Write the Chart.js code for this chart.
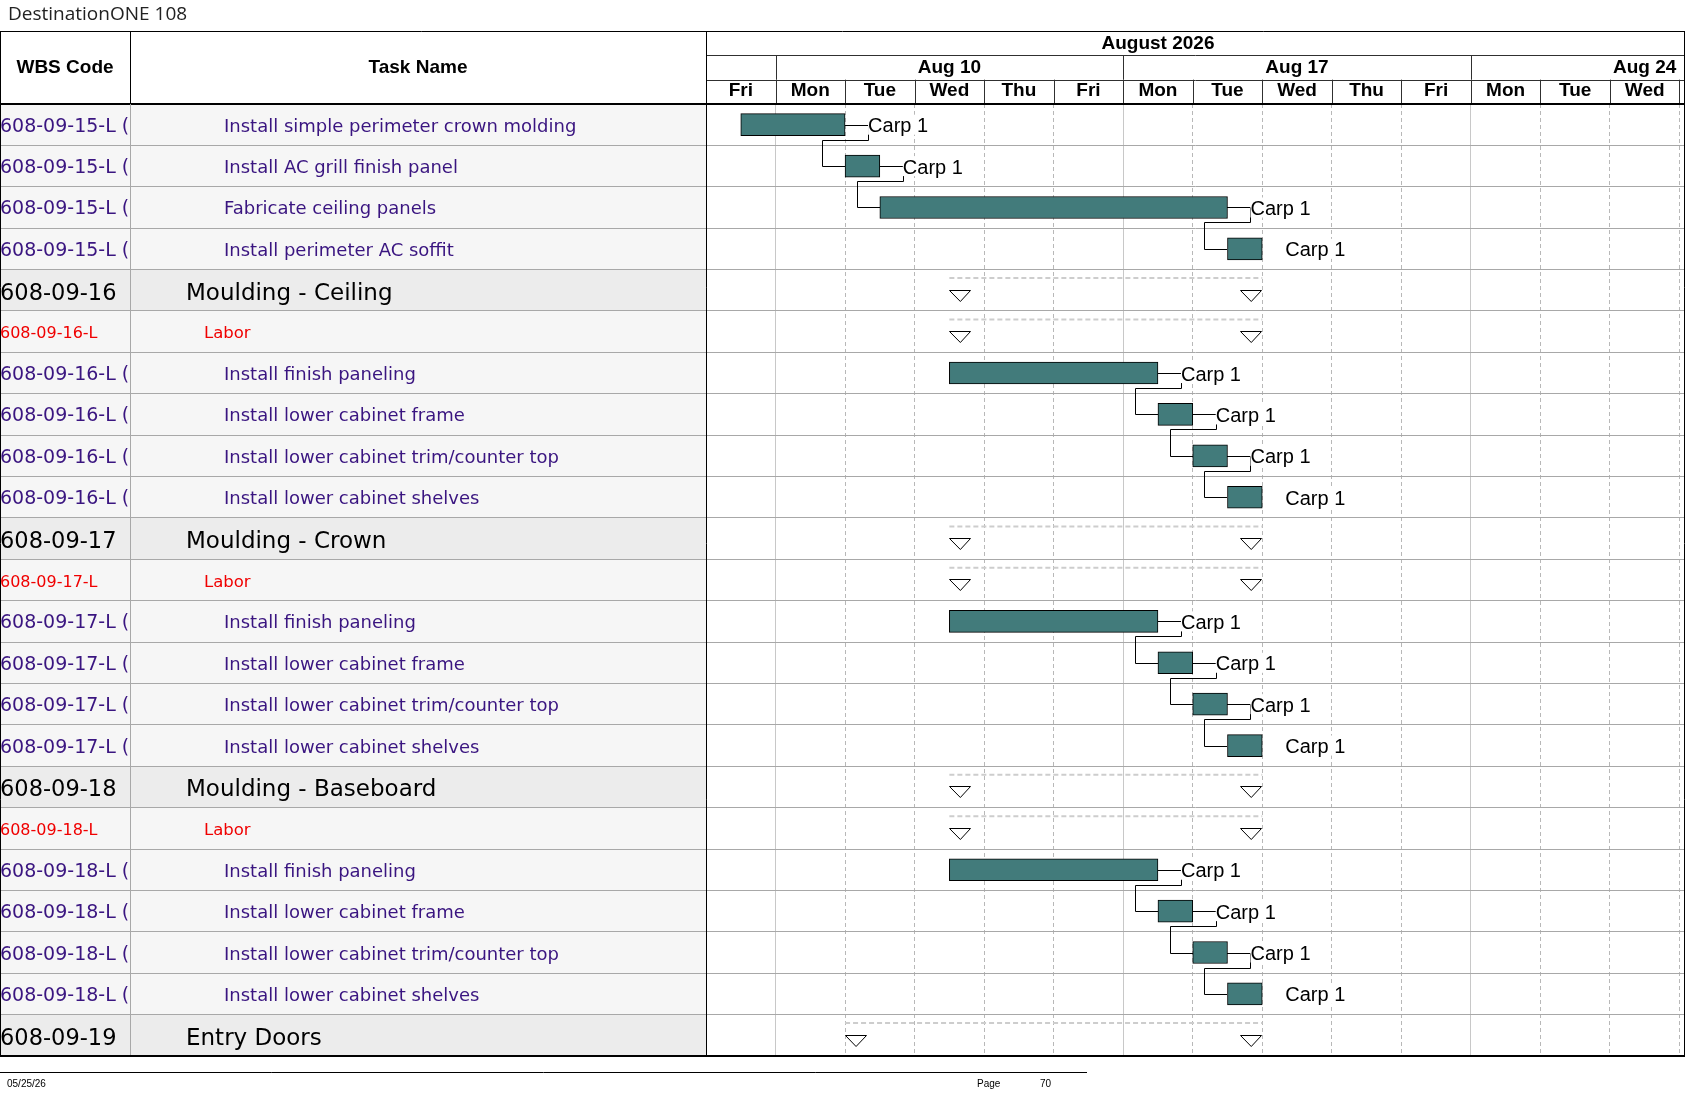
<!DOCTYPE html>
<html><head><meta charset="utf-8">
<script src="https://cdn.jsdelivr.net/npm/chart.js@4.4.1/dist/chart.umd.min.js"></script>
<style>html,body{margin:0;padding:0;background:#fff;overflow:hidden}#wrap{position:relative;width:1687px;height:1097px}</style>
</head><body><div id="wrap"><canvas id="c"></canvas></div>
<script>
// ---------- data ----------
const chartTitle = 'DestinationONE 108';
const wbsHeader = 'WBS Code';
const nameHeader = 'Task Name';
const wbsCodes = [
  '608-09-15-L (','608-09-15-L (','608-09-15-L (','608-09-15-L (',
  '608-09-16','608-09-16-L','608-09-16-L (','608-09-16-L (','608-09-16-L (','608-09-16-L (',
  '608-09-17','608-09-17-L','608-09-17-L (','608-09-17-L (','608-09-17-L (','608-09-17-L (',
  '608-09-18','608-09-18-L','608-09-18-L (','608-09-18-L (','608-09-18-L (','608-09-18-L (',
  '608-09-19'
];
const taskNames = [
  'Install simple perimeter crown molding','Install AC grill finish panel','Fabricate ceiling panels','Install perimeter AC soffit',
  'Moulding - Ceiling','Labor','Install finish paneling','Install lower cabinet frame','Install lower cabinet trim/counter top','Install lower cabinet shelves',
  'Moulding - Crown','Labor','Install finish paneling','Install lower cabinet frame','Install lower cabinet trim/counter top','Install lower cabinet shelves',
  'Moulding - Baseboard','Labor','Install finish paneling','Install lower cabinet frame','Install lower cabinet trim/counter top','Install lower cabinet shelves',
  'Entry Doors'
];
const rowKinds = [
  'task','task','task','task',
  'group','labor','task','task','task','task',
  'group','labor','task','task','task','task',
  'group','labor','task','task','task','task',
  'group'
];
// working-day offsets (0 = start of Fri Aug 7, weekends not shown)
const startDay  = [0.5,2,2.5,7.5, 3.5,3.5,3.5,6.5,7,7.5, 3.5,3.5,3.5,6.5,7,7.5, 3.5,3.5,3.5,6.5,7,7.5, 2];
const finishDay = [2,2.5,7.5,8,   8,8,6.5,7,7.5,8,      8,8,6.5,7,7.5,8,      8,8,6.5,7,7.5,8,      8];
const resourceNames = [
  'Carp 1','Carp 1','Carp 1','Carp 1',
  '','','Carp 1','Carp 1','Carp 1','Carp 1',
  '','','Carp 1','Carp 1','Carp 1','Carp 1',
  '','','Carp 1','Carp 1','Carp 1','Carp 1',
  ''
];
const predecessorRow = [-1,0,1,2, -1,-1,-1,6,7,8, -1,-1,-1,12,13,14, -1,-1,-1,18,19,20, -1];
const dayLabels = ['Fri','Mon','Tue','Wed','Thu','Fri','Mon','Tue','Wed','Thu','Fri','Mon','Tue','Wed'];
const weekLabels = ['Aug 3','Aug 10','Aug 17','Aug 24'];
const weekStartDay = [-4,1,6,11];
const monthLabels = ['August 2026'];
const monthStartDay = [-4];
const monthEndDay = [17];
const footerDate = '05/25/26';
const footerPageLabel = 'Page';
const footerPage = '70';

// ---------- style constants ----------
const WBS_COL_W = 130;
const INDENT = {task: 224, labor: 204, group: 186};
const BAR_COLOR = '#427b7b';
const TEXT_PURPLE = '#3a1580';
const TEXT_RED = '#f00000';
const LABEL_GAP = 23;

const al = v => Math.round(v) + 0.5;

function line(ctx, x1, y1, x2, y2, color, w, dash) {
  ctx.save();
  ctx.strokeStyle = color; ctx.lineWidth = w || 1;
  ctx.setLineDash(dash || []);
  ctx.beginPath(); ctx.moveTo(x1, y1); ctx.lineTo(x2, y2); ctx.stroke();
  ctx.restore();
}

const ganttPlugin = {
  id: 'gantt',
  beforeDraw(chart) {
    const {ctx, chartArea: ca, scales: {y}} = chart;
    ctx.save();
    ctx.fillStyle = '#fff';
    ctx.fillRect(0, 0, chart.width, chart.height);
    const step = y.getPixelForValue(1) - y.getPixelForValue(0);
    rowKinds.forEach((k, i) => {
      const c = y.getPixelForValue(i);
      ctx.fillStyle = k === 'group' ? '#ececec' : '#f6f6f6';
      ctx.fillRect(0, c - step / 2, ca.left, step);
    });
    ctx.restore();
  },
  beforeDatasetsDraw(chart) {
    const {ctx} = chart;
    const meta = chart.getDatasetMeta(0);
    ctx.save();
    ctx.strokeStyle = '#000'; ctx.lineWidth = 1;
    predecessorRow.forEach((p, i) => {
      if (p < 0) return;
      const a = meta.data[p], b = meta.data[i];
      const ex = a.x, my = a.y, bot = a.y + a.height / 2 + 4;
      const sx = b.base, ny = b.y;
      ctx.beginPath();
      ctx.moveTo(Math.round(ex), al(my));
      ctx.lineTo(al(ex + LABEL_GAP), al(my));
      ctx.lineTo(al(ex + LABEL_GAP), al(bot));
      ctx.lineTo(al(sx - LABEL_GAP), al(bot));
      ctx.lineTo(al(sx - LABEL_GAP), al(ny));
      ctx.lineTo(Math.round(sx), al(ny));
      ctx.stroke();
    });
    ctx.restore();
  },
  afterDatasetsDraw(chart) {
    const {ctx, scales: {y}} = chart;
    const step = y.getPixelForValue(1) - y.getPixelForValue(0);
    // resource labels
    const meta = chart.getDatasetMeta(0);
    ctx.save();
    ctx.font = '20px "Liberation Sans", Arial, sans-serif';
    ctx.textBaseline = 'alphabetic';
    resourceNames.forEach((r, i) => {
      if (!r || rowKinds[i] !== 'task') return;
      const el = meta.data[i];
      const x = el.x + LABEL_GAP, cy = el.y;
      const w = ctx.measureText(r).width;
      ctx.fillStyle = '#fff';
      ctx.fillRect(x, cy - el.height / 2 + 1, w + 1, el.height - 2);
      ctx.fillStyle = '#000';
      ctx.fillText(r, x, cy + 7.5);
    });
    // summary markers
    const smeta = chart.getDatasetMeta(1);
    rowKinds.forEach((k, i) => {
      if (k === 'task') return;
      const el = smeta.data[i];
      const sx = el.base, ex = el.x;
      const top = el.y - step / 2;
      line(ctx, sx, top + 8.5, ex, top + 8.5, '#cdcdcd', 2, [5, 3]);
      const t = Math.round(top + 20) + 0.5;
      [[sx, sx + 22], [ex - 22, ex]].forEach(([l, r]) => {
        ctx.beginPath();
        ctx.moveTo(Math.round(l) + 0.5, t);
        ctx.lineTo(Math.round(r) - 0.5, t);
        ctx.lineTo((l + r) / 2, t + 11);
        ctx.closePath();
        ctx.fillStyle = '#fff'; ctx.fill();
        ctx.strokeStyle = '#000'; ctx.lineWidth = 1; ctx.stroke();
      });
    });
    ctx.restore();
  },
  afterDraw(chart) {
    const {ctx, chartArea: ca, scales: {x, y}} = chart;
    const step = y.getPixelForValue(1) - y.getPixelForValue(0);
    const hTop = x.top, tierH = x.height / 3;
    const t1 = hTop + tierH, t2 = hTop + 2 * tierH;
    ctx.save();
    // ---- table text ----
    rowKinds.forEach((k, i) => {
      const cy = y.getPixelForValue(i);
      const top = cy - step / 2;
      let wbsFont, nameFont, color, base;
      if (k === 'group') {
        wbsFont = '22.5px "DejaVu Sans", sans-serif';
        nameFont = '23px "DejaVu Sans", sans-serif';
        color = '#000'; base = cy + 9.5;
      } else if (k === 'labor') {
        wbsFont = '16px "DejaVu Sans", sans-serif';
        nameFont = '16.5px "DejaVu Sans", sans-serif';
        color = TEXT_RED; base = cy + 6.5;
      } else {
        wbsFont = '19px "DejaVu Sans", sans-serif';
        nameFont = '18px "DejaVu Sans", sans-serif';
        color = TEXT_PURPLE; base = cy + 7;
      }
      ctx.fillStyle = color;
      ctx.textAlign = 'left'; ctx.textBaseline = 'alphabetic';
      ctx.save();
      ctx.beginPath(); ctx.rect(0, top, WBS_COL_W, step); ctx.clip();
      ctx.font = wbsFont; ctx.fillText(wbsCodes[i], 0, base);
      ctx.restore();
      ctx.save();
      ctx.beginPath(); ctx.rect(WBS_COL_W, top, ca.left - WBS_COL_W, step); ctx.clip();
      ctx.font = nameFont; ctx.fillText(taskNames[i], INDENT[k], base);
      ctx.restore();
    });
    // ---- header ----
    ctx.fillStyle = '#000';
    ctx.font = 'bold 19px "Liberation Sans", Arial, sans-serif';
    ctx.textAlign = 'center'; ctx.textBaseline = 'middle';
    const hMid = (hTop + ca.top) / 2;
    ctx.fillText(wbsHeader, WBS_COL_W / 2, hMid);
    ctx.fillText(nameHeader, (WBS_COL_W + ca.left) / 2, hMid);
    // timescale tiers
    ctx.save();
    ctx.beginPath(); ctx.rect(ca.left, hTop, ca.right - ca.left, ca.top - hTop); ctx.clip();
    monthLabels.forEach((m, i) => {
      const cx = (x.getPixelForValue(monthStartDay[i]) + x.getPixelForValue(monthEndDay[i])) / 2;
      ctx.fillText(m, cx, (hTop + t1) / 2 + 0.5);
    });
    weekLabels.forEach((w, i) => {
      const s = weekStartDay[i];
      const cx = (x.getPixelForValue(s) + x.getPixelForValue(s + 5)) / 2;
      ctx.fillText(w, cx, (t1 + t2) / 2 + 0.5);
      const px = x.getPixelForValue(s);
      if (px > ca.left && px < ca.right) line(ctx, al(px), t1, al(px), t2, '#303030', 1);
    });
    for (let i = 1; i <= dayLabels.length; i++) {
      const px = x.getPixelForValue(i);
      if (px < ca.right) line(ctx, al(px), t2, al(px), ca.top, '#303030', 1);
    }
    ctx.restore();
    // horizontal header lines
    line(ctx, 0, al(hTop), ca.right, al(hTop), '#000', 1);
    line(ctx, ca.left, al(t1), ca.right, al(t1), '#303030', 1);
    line(ctx, ca.left, al(t2), ca.right, al(t2), '#303030', 1);
    line(ctx, 0, Math.round(ca.top), ca.right, Math.round(ca.top), '#000', 2);
    // vertical borders
    line(ctx, 0.5, hTop, 0.5, ca.bottom, '#000', 1);
    line(ctx, al(WBS_COL_W), hTop, al(WBS_COL_W), ca.top, '#000', 1);
    line(ctx, al(WBS_COL_W), ca.top, al(WBS_COL_W), ca.bottom, '#a8a8a8', 1);
    line(ctx, al(ca.left), hTop, al(ca.left), ca.bottom, '#000', 1);
    line(ctx, Math.round(ca.right) - 0.5, hTop, Math.round(ca.right) - 0.5, ca.bottom, '#000', 1);
    line(ctx, 0, Math.round(ca.bottom), ca.right, Math.round(ca.bottom), '#000', 2);
    // footer
    const fy = ca.bottom + 15.5;
    line(ctx, 0, al(fy), 1087, al(fy), '#000', 1);
    ctx.font = '10px "Liberation Sans", Arial, sans-serif';
    ctx.textAlign = 'left'; ctx.textBaseline = 'middle';
    ctx.fillText(footerDate, 7, fy + 13);
    ctx.fillText(footerPageLabel, 977, fy + 13);
    ctx.fillText(footerPage, 1040, fy + 13);
    ctx.restore();
  }
};

const taskData = rowKinds.map((k, i) => k === 'task' ? [startDay[i], finishDay[i]] : null);
const summaryData = rowKinds.map((k, i) => k !== 'task' ? [startDay[i], finishDay[i]] : null);

new Chart(document.getElementById('c'), {
  type: 'bar',
  data: {
    labels: taskNames,
    datasets: [
      {label: 'Tasks', data: taskData, backgroundColor: BAR_COLOR, borderColor: '#000', borderWidth: 1,
       borderSkipped: false, barThickness: 22, grouped: false},
      {label: 'Summary', data: summaryData, backgroundColor: 'rgba(0,0,0,0)', borderWidth: 0,
       barThickness: 22, grouped: false}
    ]
  },
  options: {
    indexAxis: 'y',
    responsive: true,
    maintainAspectRatio: false,
    animation: false,
    layout: {padding: {left: 8, right: 2, top: 0, bottom: 41}},
    plugins: {
      legend: {display: false},
      tooltip: {enabled: false},
      title: {display: true, text: chartTitle, align: 'start', color: '#222',
              font: {family: '"Open Sans", sans-serif', size: 19, weight: 'normal', lineHeight: 1.2},
              padding: {top: 3.4, bottom: 4.8}}
    },
    scales: {
      x: {
        type: 'linear', position: 'top', min: 0, max: 14.08,
        afterBuildTicks: s => { s.ticks = dayLabels.map((d, i) => ({value: i + 0.5})); },
        afterFit: s => { s.height = 73; },
        ticks: {autoSkip: false, maxRotation: 0, padding: 2, color: '#000',
                font: {family: '"Liberation Sans", Arial, sans-serif', size: 19, weight: 'bold'},
                callback: (v, i) => dayLabels[i]},
        grid: {offset: true, drawTicks: false, lineWidth: 1,
               color: c => (c.index !== undefined && dayLabels[c.index] === 'Mon') ? '#c8c8c8' : '#b8b8b8'},
        border: {display: false, dash: c => (c.index !== undefined && dayLabels[c.index] === 'Mon') ? [] : [4, 3]}
      },
      y: {
        type: 'category',
        afterFit: s => { s.width = 698; },
        ticks: {display: false},
        grid: {offset: true, color: '#a8a8a8', tickColor: '#a8a8a8', tickLength: 706, lineWidth: 1},
        border: {display: false}
      }
    }
  },
  plugins: [ganttPlugin]
});
</script></body></html>
